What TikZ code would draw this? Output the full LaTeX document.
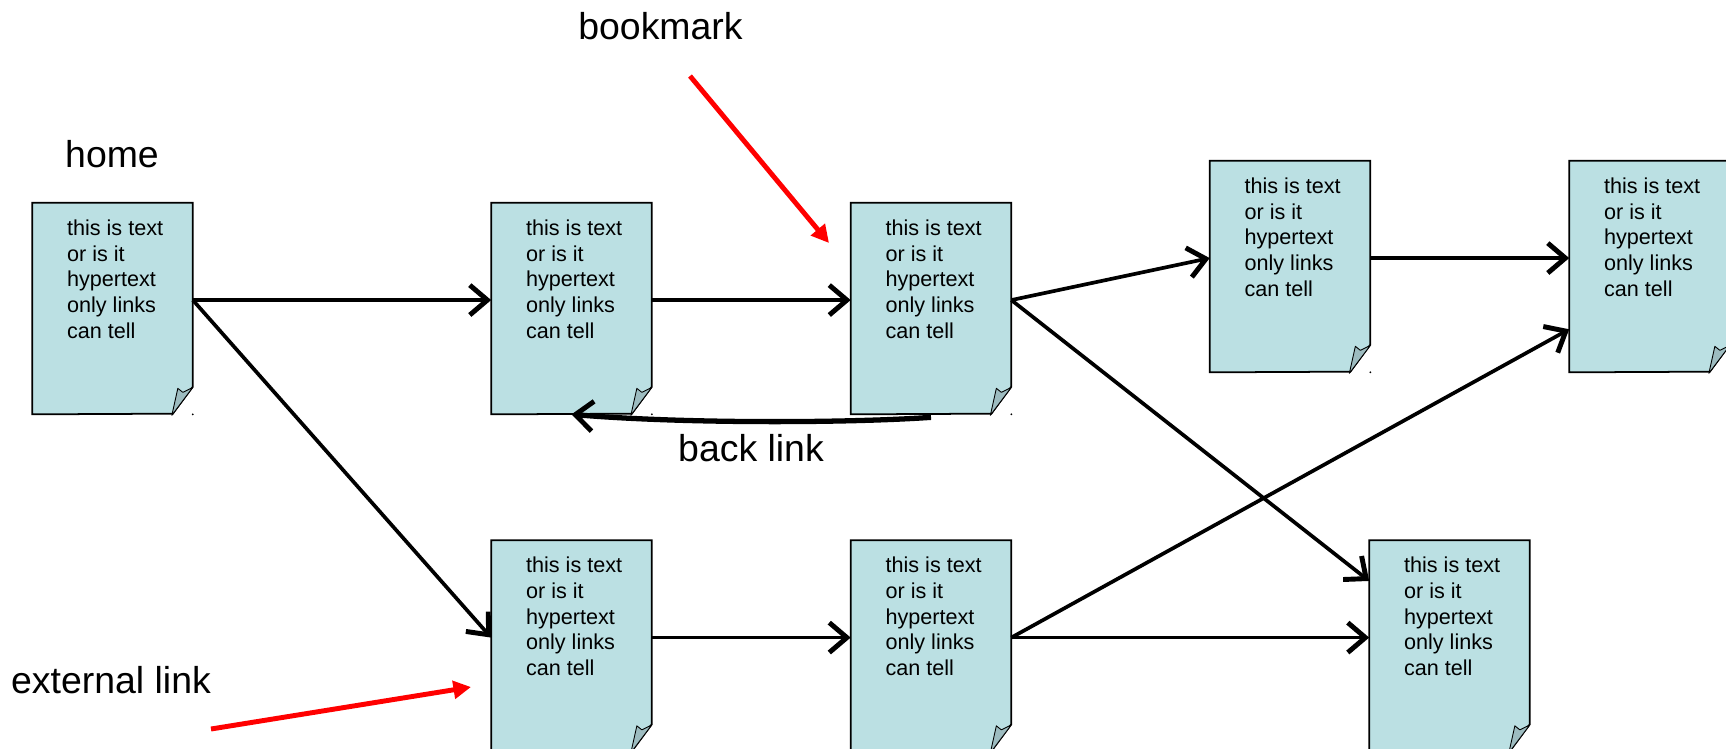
\documentclass[tikz,border=0pt]{standalone}
\usepackage{fontspec}
\setmainfont{Liberation Sans}
\usetikzlibrary{arrows.meta,bending}
\definecolor{pageblue}{HTML}{BBE0E3}
\definecolor{foldblue}{HTML}{9DBCC0}
\newcommand{\pagetext}{\parbox[c][119.6pt][t]{90.7pt}{\fontsize{12.3}{14.6}\selectfont\leftskip=19.5pt\parindent=0pt\vspace*{9.3pt}this is text\\or is it\\hypertext\\only links\\can tell}}
\tikzset{pagebox/.style={rectangle,fill=pageblue,inner sep=0pt,minimum width=3.2cm,minimum height=4.22cm},
	biglabel/.style={font=\fontsize{21.3}{25}\selectfont,inner sep=0pt},
	link/.style={->,line width=2.1pt},
	marker/.style={-{Triangle[length=10pt,width=10pt]},red,line width=2.8pt}}
\begin{document}
\begin{tikzpicture}[x=0.02cm,y=-0.02cm,>={Straight Barb[length=10pt,width=17pt,line width=2.8pt]}]
	\path[use as bounding box,clip] (0,0) rectangle (1726,748);
	\node[pagebox] (p1) at (112.5,308.5) {\pagetext};
	\node[pagebox] (p2) at (571.5,308.5) {\pagetext};
	\node[pagebox] (p3) at (931,308.5) {\pagetext};
	\node[pagebox] (p4) at (1290,266.5) {\pagetext};
	\node[pagebox] (p5) at (1649.5,266.5) {\pagetext};
	\node[pagebox] (p6) at (571.5,646) {\pagetext};
	\node[pagebox] (p7) at (931,646) {\pagetext};
	\node[pagebox] (p8) at (1449.5,646) {\pagetext};
	\foreach \n in {1,...,8} {
		\fill[white] (p\n.south east) -- ++(0,-27) -- ++(-20,27) -- cycle;
		\draw[line width=1pt] (p\n.north west) -- (p\n.north east) -- ++(0,184) -- ++(-20,27) -- (p\n.south west) -- cycle;
		\draw[fill=foldblue,line width=0.5pt,line join=round] (p\n.south east) ++(0,-27) -- ++(-10,5) -- ++(-5,-4) -- ++(-6,27) -- cycle;
		\fill (p\n.south east) circle (1);
	}
	\node[biglabel] (home) at (112,154) {home};
	\node[biglabel] (bookmark) at (660.5,26) {bookmark};
	\node[biglabel] (backlink) at (751,448) {back link};
	\node[biglabel] (external) at (111,680) {external link};
	\draw[link] (p1.6) -- (p2.174);
	\draw[link] (p2.6) -- (p3.174);
	\draw[link] (p3.6) -- (p4.174);
	\draw[link] (p4.6) -- (p5.174);
	\draw[link] (p3.6) -- (p8.141);
	\draw[link] (p1.6) -- (p6.174);
	\draw[link] (p6.6) -- (p7.174);
	\draw[link] (p7.6) -- (p8.174);
	\draw[link] (p7.6) -- (p5.218);
	\draw[->,line width=3pt] (p3.south) ++(0,3) coordinate (backstart) (backstart) .. controls (850,423) and (680,424) .. (p2.south);
	\coordinate (bookstart) at (690,76);
	\coordinate (bookend) at (829,243);
	\coordinate (extstart) at (211,729);
	\coordinate (extend) at (471,687);
	\draw[marker] (bookstart) -- (bookend);
	\draw[marker] (extstart) -- (extend);
\end{tikzpicture}
\end{document}
